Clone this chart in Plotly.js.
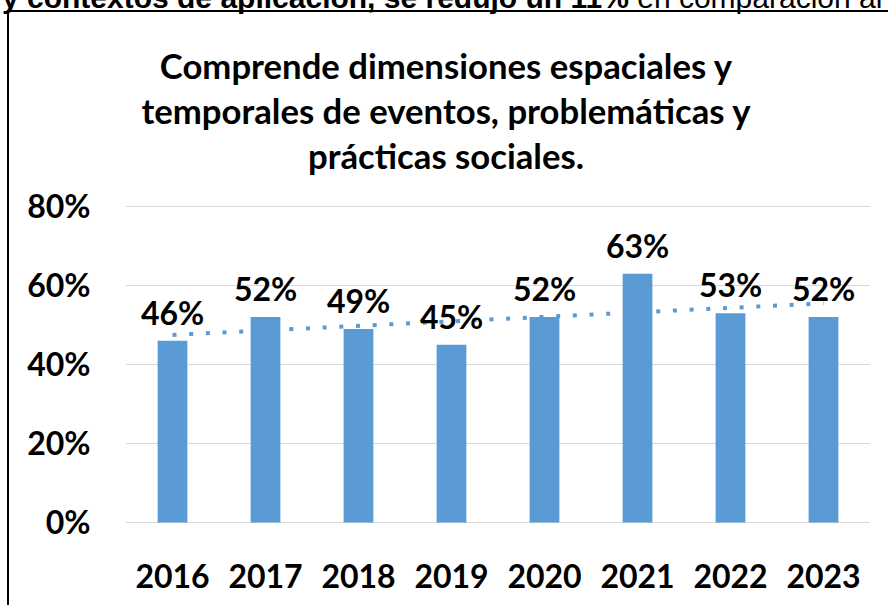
<!DOCTYPE html>
<html>
<head>
<meta charset="utf-8">
<script src="https://cdn.plot.ly/plotly-3.0.1.min.js"></script>
<style>
html,body{margin:0;padding:0;background:#fff;overflow:hidden;}
#chart{width:888px;height:605px;}
</style>
</head>
<body>
<div id="chart"></div>
<script>
// Data
var years = ['2016','2017','2018','2019','2020','2021','2022','2023'];
var values = [46, 52, 49, 45, 52, 63, 53, 52];
var yTickVals = [0, 20, 40, 60, 80];
var yTickText = ['0%', '20%', '40%', '60%', '80%'];
var titleLines = ['Comprende dimensiones espaciales y', 'temporales de eventos, problemáticas y', 'prácticas sociales.'];
var topTextBold = 'y contextos de aplicación, se redujo un 11%';
var topTextRegular = ' en comparación al e';

// Linear trend (least squares over category index)
var n = values.length, sx = 0, sy = 0, sxy = 0, sxx = 0;
for (var i = 0; i < n; i++) { sx += i; sy += values[i]; sxy += i * values[i]; sxx += i * i; }
var slope = (n * sxy - sx * sy) / (n * sxx - sx * sx);
var intercept = (sy - slope * sx) / n;
var trend = values.map(function (_, i) { return intercept + slope * i; });

var barColor = '#5B9BD5';
var font = 'Lato, "Open Sans", sans-serif';

var traces = [
  {
    type: 'bar', x: years, y: values, marker: {color: barColor},
    hoverinfo: 'skip', showlegend: false
  },
  {
    type: 'scatter', mode: 'lines', x: years, y: trend,
    line: {color: barColor, width: 4, dash: '4px,12.7px'},
    hoverinfo: 'skip', showlegend: false
  }
];

var annotations = values.map(function (v, i) {
  return {
    x: i, y: v, xref: 'x', yref: 'y', text: '<b>' + v + '%</b>', showarrow: false,
    xanchor: 'center', yanchor: 'bottom', yshift: 7,
    font: {family: font, size: 32, color: '#000'}
  };
});
annotations.push({
  xref: 'paper', yref: 'paper', x: (0 - 126) / 744, y: (523 - 1) / 316,
  xanchor: 'left', yanchor: 'middle', showarrow: false,
  text: '<b>' + topTextBold + '</b>' + topTextRegular,
  font: {family: '"Liberation Sans", Arial, sans-serif', size: 30, color: '#000'}
});

var layout = {
  width: 888, height: 605,
  margin: {l: 126, r: 18, t: 205, b: 81, pad: 0},
  paper_bgcolor: '#fff', plot_bgcolor: '#fff',
  bargap: 0.68,
  showlegend: false,
  title: {
    text: '<b>' + titleLines.join('<br>') + '</b>',
    x: 446 / 888, xref: 'container', xanchor: 'center',
    y: (605 - 79) / 605, yref: 'container', yanchor: 'middle',
    font: {family: font, size: 34.7, color: '#000'}
  },
  xaxis: {
    type: 'category', range: [-0.5, years.length - 0.5],
    showgrid: false, zeroline: false, showline: false,
    ticks: 'outside', ticklen: 25, tickcolor: 'rgba(0,0,0,0)',
    tickfont: {family: font, size: 32, color: '#000', weight: 'bold'}
  },
  yaxis: {
    range: [-0.4, 80.4], tickmode: 'array', tickvals: yTickVals, ticktext: yTickText,
    showgrid: true, gridcolor: '#D9D9D9', gridwidth: 1.5,
    zeroline: false, showline: false,
    ticks: 'outside', ticklen: 28, tickcolor: 'rgba(0,0,0,0)',
    tickfont: {family: font, size: 32, color: '#000', weight: 'bold'}
  },
  annotations: annotations,
  shapes: [{
    type: 'rect', xref: 'paper', yref: 'paper',
    x0: (8 - 126) / 744, x1: (895 - 126) / 744,
    y0: (524 - 615) / 319, y1: (524 - 11) / 319,
    line: {color: '#000', width: 2}, fillcolor: 'rgba(0,0,0,0)', layer: 'below'
  }]
};

Plotly.newPlot('chart', traces, layout, {displayModeBar: false, staticPlot: true});
</script>
</body>
</html>
